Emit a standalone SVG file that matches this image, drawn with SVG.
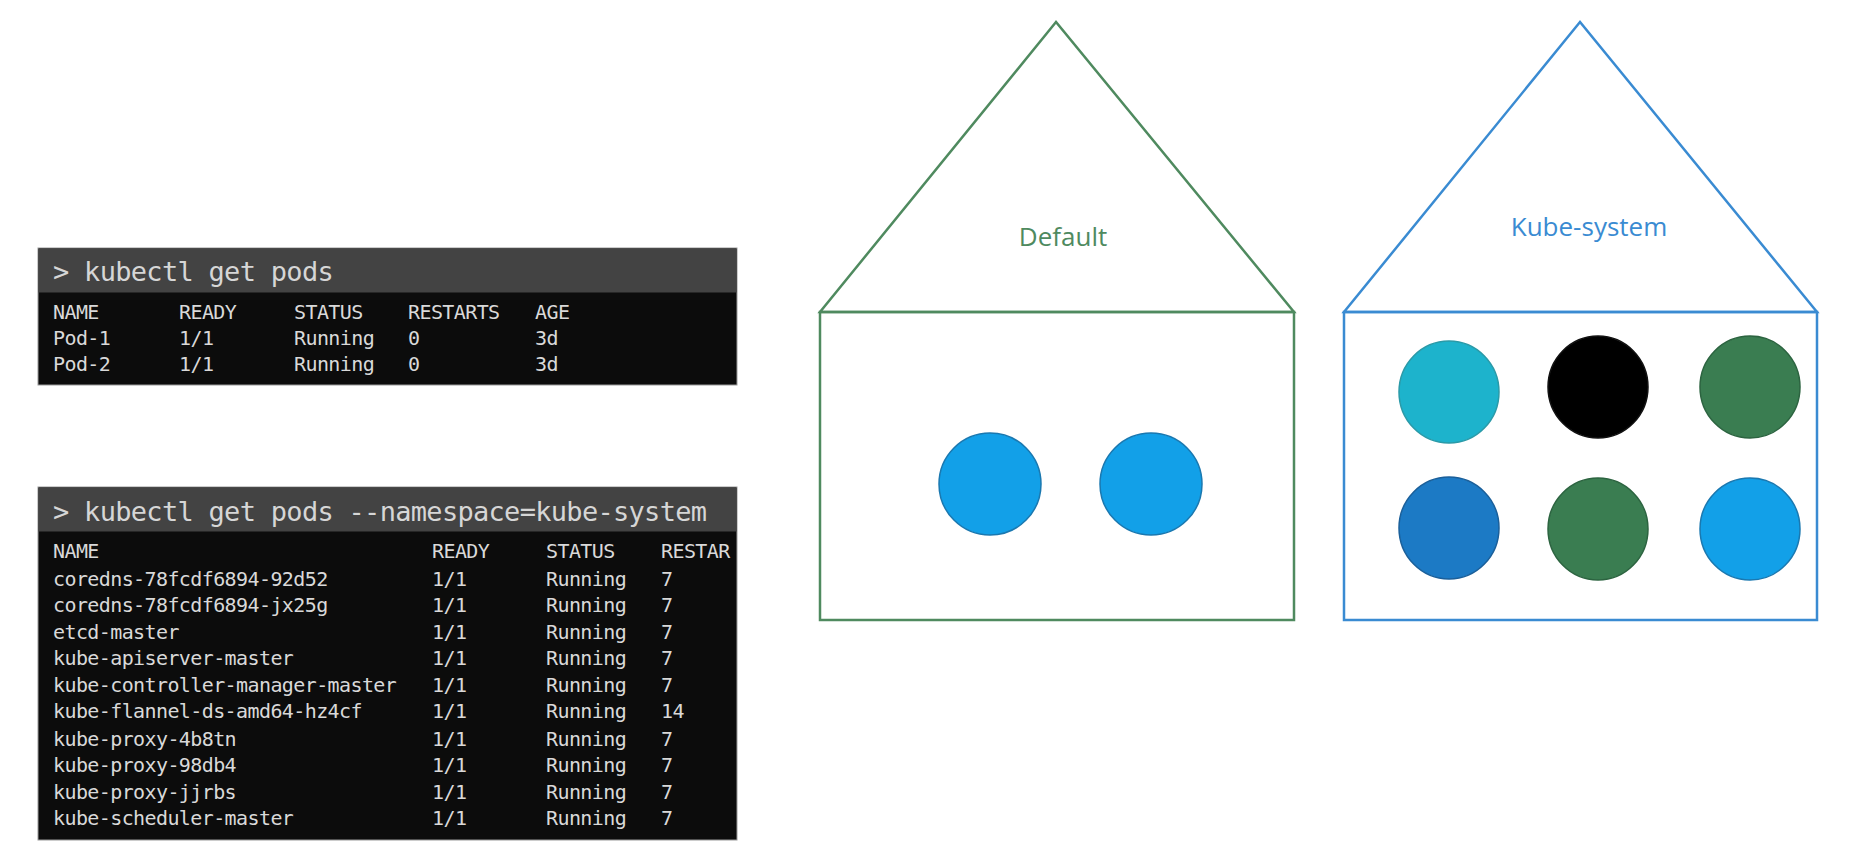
<svg xmlns="http://www.w3.org/2000/svg" width="1859" height="844" viewBox="0 0 1859 844">
<style>
.term{fill:#0c0c0c;stroke:#9a9a9a;stroke-width:1}
.hdr{fill:#434343}
.cmd{font-family:"DejaVu Sans Mono","Liberation Mono",monospace;font-size:27px;letter-spacing:-0.7px;fill:#d6d6d6}
.row{font-family:"DejaVu Sans Mono","Liberation Mono",monospace;font-size:20px;letter-spacing:-0.6px;fill:#d9d9d9}
.green{fill:none;stroke:#4f8a5f;stroke-width:2.5}
.blue{fill:none;stroke:#3a8bd2;stroke-width:2.5}
.lbl{font-family:"Open Sans","Liberation Sans",sans-serif;font-size:26px;text-anchor:middle}
.pod{stroke-width:1.5}
</style>
<rect width="1859" height="844" fill="#ffffff"/>

<g id="terminal-default">
<rect class="term" x="38" y="248" width="699" height="137"/>
<rect class="hdr" x="38.5" y="248.5" width="698" height="44"/>
<text class="cmd" x="53" y="281">&gt; kubectl get pods</text>
<g class="row">
<text y="319"><tspan x="53">NAME</tspan><tspan x="179">READY</tspan><tspan x="294">STATUS</tspan><tspan x="408">RESTARTS</tspan><tspan x="535">AGE</tspan></text>
<text y="345"><tspan x="53">Pod-1</tspan><tspan x="179">1/1</tspan><tspan x="294">Running</tspan><tspan x="408">0</tspan><tspan x="535">3d</tspan></text>
<text y="371"><tspan x="53">Pod-2</tspan><tspan x="179">1/1</tspan><tspan x="294">Running</tspan><tspan x="408">0</tspan><tspan x="535">3d</tspan></text>
</g>
</g>

<g id="terminal-kube-system">
<rect class="term" x="38" y="487" width="699" height="353"/>
<rect class="hdr" x="38.5" y="487.5" width="698" height="44"/>
<text class="cmd" x="53" y="521">&gt; kubectl get pods --namespace=kube-system</text>
<g class="row">
<text y="558"><tspan x="53">NAME</tspan><tspan x="432">READY</tspan><tspan x="546">STATUS</tspan><tspan x="661">RESTAR</tspan></text>
<text y="586"><tspan x="53">coredns-78fcdf6894-92d52</tspan><tspan x="432">1/1</tspan><tspan x="546">Running</tspan><tspan x="661">7</tspan></text>
<text y="612"><tspan x="53">coredns-78fcdf6894-jx25g</tspan><tspan x="432">1/1</tspan><tspan x="546">Running</tspan><tspan x="661">7</tspan></text>
<text y="639"><tspan x="53">etcd-master</tspan><tspan x="432">1/1</tspan><tspan x="546">Running</tspan><tspan x="661">7</tspan></text>
<text y="665"><tspan x="53">kube-apiserver-master</tspan><tspan x="432">1/1</tspan><tspan x="546">Running</tspan><tspan x="661">7</tspan></text>
<text y="692"><tspan x="53">kube-controller-manager-master</tspan><tspan x="432">1/1</tspan><tspan x="546">Running</tspan><tspan x="661">7</tspan></text>
<text y="718"><tspan x="53">kube-flannel-ds-amd64-hz4cf</tspan><tspan x="432">1/1</tspan><tspan x="546">Running</tspan><tspan x="661">14</tspan></text>
<text y="746"><tspan x="53">kube-proxy-4b8tn</tspan><tspan x="432">1/1</tspan><tspan x="546">Running</tspan><tspan x="661">7</tspan></text>
<text y="772"><tspan x="53">kube-proxy-98db4</tspan><tspan x="432">1/1</tspan><tspan x="546">Running</tspan><tspan x="661">7</tspan></text>
<text y="799"><tspan x="53">kube-proxy-jjrbs</tspan><tspan x="432">1/1</tspan><tspan x="546">Running</tspan><tspan x="661">7</tspan></text>
<text y="825"><tspan x="53">kube-scheduler-master</tspan><tspan x="432">1/1</tspan><tspan x="546">Running</tspan><tspan x="661">7</tspan></text>
</g>
</g>

<g id="house-default">
<polygon class="green" points="1056,22 820,312 1294,312"/>
<rect class="green" x="820" y="312" width="474" height="308"/>
<text class="lbl" x="1063" y="246" fill="#4f8a5f">Default</text>
<ellipse class="pod" cx="990" cy="484" rx="51" ry="51" fill="#12a0e8" stroke="#1a78b0"/>
<ellipse class="pod" cx="1151" cy="484" rx="51" ry="51" fill="#12a0e8" stroke="#1a78b0"/>
</g>

<g id="house-kube-system">
<polygon class="blue" points="1580,22 1344,312 1817,312"/>
<rect class="blue" x="1344" y="312" width="473" height="308"/>
<text class="lbl" x="1589" y="236" fill="#3a8bd2">Kube-system</text>
<ellipse class="pod" cx="1449" cy="392" rx="50" ry="51" fill="#1db3cc" stroke="#2a9aa8"/>
<ellipse class="pod" cx="1598" cy="387" rx="50" ry="51" fill="#000000" stroke="#111111"/>
<ellipse class="pod" cx="1750" cy="387" rx="50" ry="51" fill="#3a7d51" stroke="#2c6440"/>
<ellipse class="pod" cx="1449" cy="528" rx="50" ry="51" fill="#1c7ac5" stroke="#1a5f9a"/>
<ellipse class="pod" cx="1598" cy="529" rx="50" ry="51" fill="#3a7d51" stroke="#2c6440"/>
<ellipse class="pod" cx="1750" cy="529" rx="50" ry="51" fill="#12a0e8" stroke="#1a78b0"/>
</g>

<g id="connectors"></g>
</svg>
